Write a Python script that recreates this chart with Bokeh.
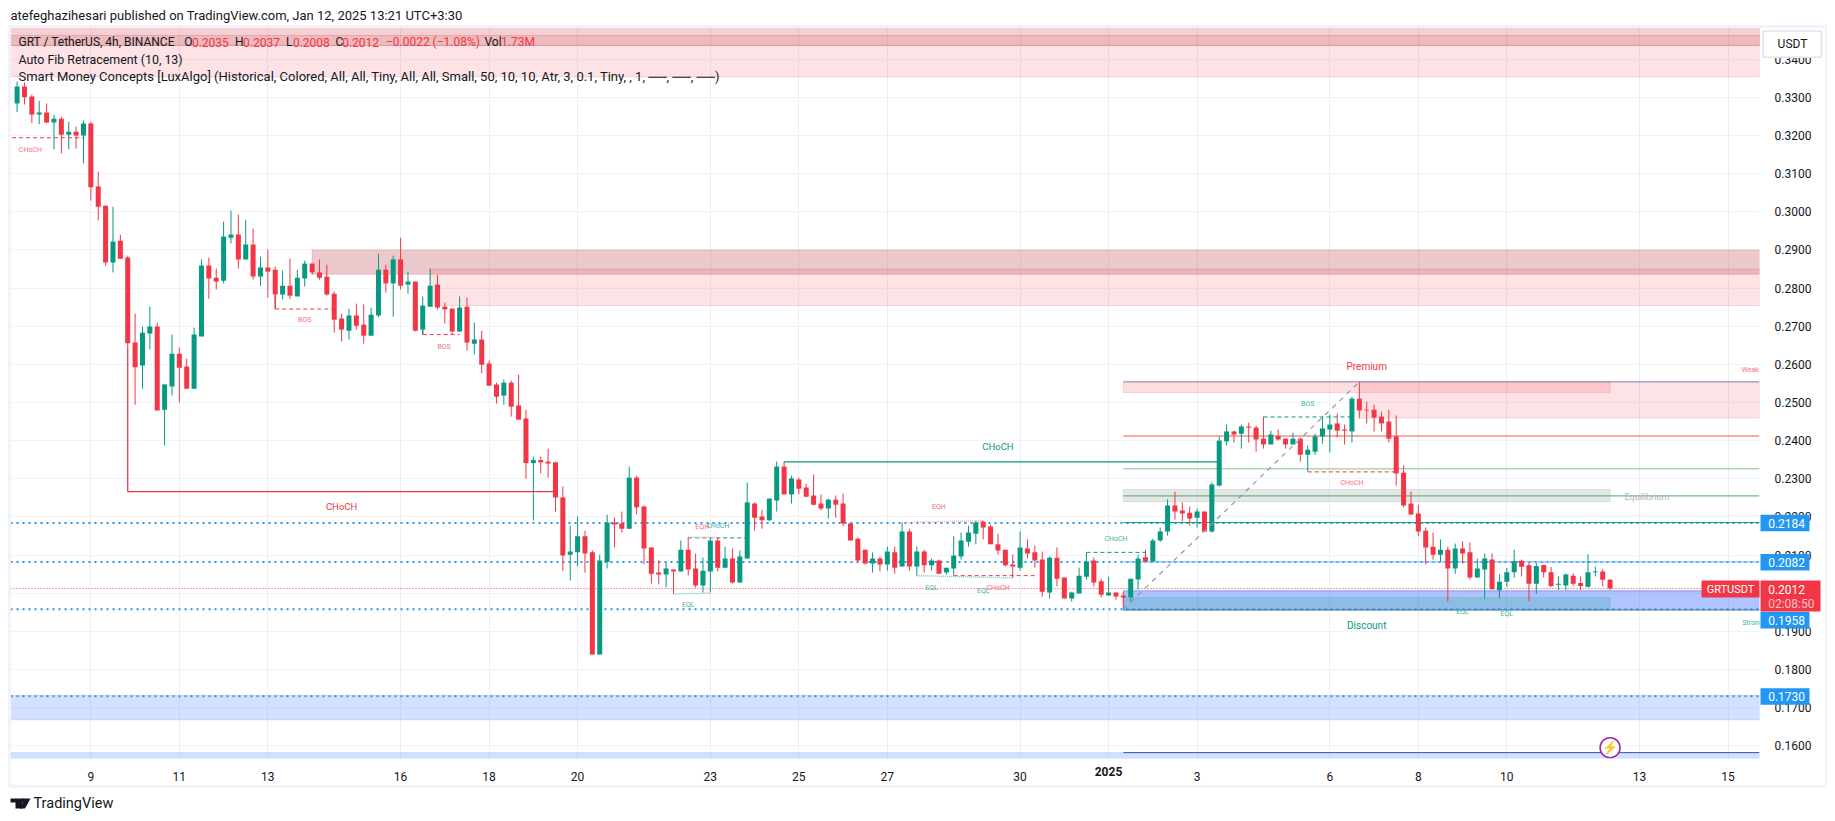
from bokeh.plotting import figure
from bokeh.embed import file_html
from bokeh.resources import INLINE
from bokeh.models import Range1d, FixedTicker, Label

opens = [.3284,.3328,.3302,.3255,.3260,.3234,.3244,.3202,.3210,.3200,
.3231,.3066,.3016,.2867,.2924,.2880,.2657,.2597,.2681,.2699,
.2481,.2542,.2628,.2594,.2536,.2673,.2859,.2827,.2819,.2932,
.2940,.2875,.2914,.2830,.2854,.2848,.2783,.2806,.2778,.2825,
.2864,.2841,.2830,.2785,.2720,.2688,.2728,.2704,.2675,.2728,
.2848,.2812,.2875,.2809,.2817,.2691,.2751,.2809,.2751,.2746,
.2686,.2751,.2654,.2665,.2602,.2547,.2518,.2552,.2492,.2458,
.2341,.2349,.2345,.2343,.2251,.2101,.2107,.2149,.2107,.1839,
.2082,.2185,.2183,.2169,.2303,.2227,.2120,.2054,.2049,.2062,
.2057,.2114,.2065,.2020,.2057,.2138,.2067,.2091,.2028,.2091,
.2235,.2201,.2191,.2243,.2332,.2259,.2298,.2277,.2256,.2235,
.2222,.2245,.2235,.2183,.2143,.2114,.2078,.2091,.2075,.2107,
.2070,.2162,.2070,.2109,.2073,.2086,.2054,.2065,.2096,.2135,
.2156,.2188,.2175,.2128,.2114,.2075,.2067,.2117,.2107,.2088,
.2002,.2093,.2041,.1986,.1999,.2043,.2086,.2031,.1994,.2002,
.1994,.1989,.2036,.2094,.2083,.2138,.2162,.2230,.2217,.2211,
.2198,.2214,.2162,.2282,.2398,.2424,.2418,.2437,.2434,.2405,
.2390,.2412,.2405,.2390,.2405,.2363,.2371,.2411,.2429,.2445,
.2429,.2424,.2510,.2481,.2481,.2463,.2450,.2411,.2316,.2235,
.2209,.2164,.2122,.2101,.2114,.2065,.2117,.2107,.2041,.2062,
.2088,.2008,.2030,.2055,.2085,.2073,.2025,.2074,.2055,.2022,
.2020,.2046,.2027,.2017,.2055,.2057,.2035]
highs = [.3341,.3339,.3307,.3291,.3284,.3255,.3249,.3236,.3223,.3239,
.3236,.3105,.3016,.3013,.2940,.2885,.2733,.2699,.2751,.2709,
.2549,.2678,.2644,.2615,.2696,.2875,.2880,.2851,.2974,.3003,
.2992,.2979,.2956,.2882,.2901,.2856,.2846,.2877,.2848,.2872,
.2864,.2875,.2861,.2791,.2733,.2746,.2759,.2757,.2749,.2890,
.2861,.2885,.2932,.2843,.2817,.2778,.2851,.2835,.2762,.2746,
.2778,.2775,.2709,.2688,.2610,.2552,.2560,.2557,.2573,.2481,
.2358,.2358,.2379,.2345,.2280,.2177,.2201,.2164,.2112,.2101,
.2206,.2198,.2214,.2332,.2308,.2230,.2120,.2086,.2080,.2062,
.2138,.2147,.2104,.2094,.2146,.2146,.2122,.2117,.2112,.2290,
.2238,.2219,.2248,.2345,.2345,.2308,.2303,.2287,.2311,.2259,
.2248,.2256,.2261,.2185,.2146,.2114,.2107,.2096,.2122,.2122,
.2185,.2169,.2122,.2114,.2091,.2088,.2067,.2149,.2159,.2177,
.2190,.2190,.2180,.2156,.2114,.2101,.2162,.2141,.2125,.2109,
.2096,.2120,.2041,.2004,.2067,.2107,.2094,.2038,.2043,.2002,
.2004,.2038,.2101,.2114,.2143,.2172,.2246,.2266,.2238,.2227,
.2222,.2214,.2290,.2411,.2442,.2426,.2442,.2447,.2439,.2463,
.2426,.2429,.2405,.2421,.2408,.2387,.2418,.2463,.2468,.2471,
.2442,.2515,.2554,.2502,.2494,.2476,.2481,.2466,.2335,.2266,
.2232,.2172,.2159,.2141,.2122,.2130,.2136,.2133,.2091,.2104,
.2104,.2049,.2066,.2114,.2088,.2080,.2080,.2074,.2069,.2044,
.2052,.2052,.2044,.2102,.2070,.2063,.2037]
lows = [.3261,.3281,.3232,.3230,.3232,.3164,.3153,.3164,.3165,.3127,
.3029,.2977,.2859,.2841,.2877,.2645,.2494,.2536,.2639,.2479,
.2388,.2518,.2500,.2536,.2536,.2673,.2772,.2796,.2812,.2917,
.2851,.2875,.2822,.2806,.2775,.2745,.2770,.2772,.2778,.2804,
.2835,.2822,.2780,.2683,.2660,.2665,.2691,.2654,.2675,.2723,
.2788,.2725,.2796,.2785,.2686,.2678,.2751,.2744,.2707,.2678,
.2686,.2636,.2626,.2577,.2544,.2497,.2494,.2463,.2455,.2300,
.2191,.2314,.2303,.2214,.2059,.2033,.2070,.2054,.1839,.1839,
.2065,.2120,.2159,.2169,.2206,.2075,.2025,.2023,.2015,.1998,
.2057,.2046,.2015,.2002,.2002,.2057,.2065,.2025,.2028,.2091,
.2164,.2169,.2188,.2214,.2259,.2235,.2259,.2251,.2230,.2217,
.2196,.2198,.2175,.2138,.2080,.2075,.2054,.2057,.2059,.2051,
.2070,.2059,.2046,.2054,.2059,.2051,.2049,.2046,.2088,.2122,
.2128,.2141,.2128,.2101,.2070,.2040,.2059,.2091,.2067,.1991,
.1986,.2018,.1986,.1978,.1999,.2036,.2018,.1989,.1994,.1983,
.1958,.1976,.2010,.2083,.2083,.2135,.2151,.2193,.2188,.2177,
.2172,.2162,.2159,.2280,.2387,.2395,.2379,.2395,.2371,.2379,
.2390,.2400,.2379,.2390,.2345,.2319,.2363,.2392,.2369,.2408,
.2390,.2395,.2458,.2445,.2424,.2424,.2395,.2282,.2225,.2206,
.2149,.2075,.2088,.2083,.1977,.2051,.2078,.2036,.2041,.1984,
.2010,.1987,.2016,.2041,.2044,.1978,.1998,.2041,.2016,.2008,
.2008,.2020,.2008,.2015,.2044,.2017,.2008]
closes = [.3328,.3300,.3255,.3260,.3234,.3244,.3202,.3210,.3200,.3231,
.3064,.3013,.2867,.2922,.2877,.2655,.2592,.2683,.2699,.2479,
.2547,.2628,.2591,.2536,.2678,.2859,.2825,.2817,.2935,.2940,
.2875,.2914,.2830,.2854,.2843,.2783,.2806,.2780,.2827,.2864,
.2841,.2827,.2783,.2717,.2691,.2728,.2701,.2675,.2730,.2848,
.2812,.2875,.2806,.2817,.2688,.2754,.2806,.2749,.2744,.2686,
.2749,.2657,.2665,.2599,.2544,.2515,.2552,.2489,.2455,.2341,
.2349,.2343,.2340,.2251,.2099,.2109,.2149,.2104,.1839,.2086,
.2185,.2180,.2169,.2303,.2225,.2117,.2051,.2049,.2065,.2057,
.2114,.2062,.2020,.2059,.2138,.2067,.2091,.2028,.2096,.2238,
.2198,.2191,.2248,.2332,.2259,.2301,.2274,.2253,.2232,.2222,
.2245,.2232,.2183,.2138,.2086,.2078,.2091,.2075,.2109,.2067,
.2162,.2070,.2109,.2073,.2086,.2051,.2067,.2099,.2138,.2159,
.2185,.2172,.2128,.2112,.2073,.2070,.2120,.2104,.2086,.2004,
.2093,.2038,.1986,.2002,.2046,.2083,.2028,.1996,.2002,.1991,
.1989,.2038,.2091,.2083,.2138,.2162,.2230,.2214,.2209,.2196,
.2214,.2162,.2285,.2400,.2424,.2416,.2437,.2434,.2403,.2390,
.2416,.2403,.2390,.2405,.2363,.2376,.2411,.2432,.2442,.2426,
.2426,.2510,.2479,.2479,.2460,.2445,.2405,.2314,.2230,.2206,
.2162,.2120,.2101,.2114,.2065,.2117,.2104,.2041,.2065,.2091,
.2010,.2030,.2055,.2084,.2069,.2025,.2071,.2055,.2019,.2025,
.2049,.2025,.2019,.2055,.2057,.2035,.2012]
assert len(opens) == len(highs) == len(lows) == len(closes) == 217

date_ticks = [10, 22, 34, 52, 64, 76, 94, 106, 118, 136, 148, 160, 178, 190, 202, 220, 232]
date_labels = ["9", "11", "13", "16", "18", "20", "23", "25", "27", "30", "", "3", "6", "8", "10", "13", "15"]
price_ticks = [0.16, 0.17, 0.18, 0.19, 0.20, 0.21, 0.22, 0.23, 0.24, 0.25, 0.26, 0.27, 0.28, 0.29, 0.30, 0.31, 0.32, 0.33, 0.34]

X0, X1 = -0.895, 236.26
Y0, Y1 = 0.15666, 0.3483

# zones: left, right, top, bottom, colour, alpha
zone_left  = [X0, X0, X0, 40, 56, 150, 182, 150, 150, 150, X0, X0]
zone_right = [X1, X1, X1, X1, X1, 216, X1, 216, X1, 216, X1, X1]
zone_top   = [Y1, Y1, .3462, .2900, .2850, .2554, .2554, .2272, .2006, .1989, .1732, .1582]
zone_bot   = [.3354, .3436, .3436, .2836, .2754, .2526, .2459, .2240, .1956, .1956, .1668, Y0]
zone_color = ["#f23645", "#b22833", "#b22833", "#b22833", "#f23645", "#f23645", "#f23645",
              "#878b94", "#2962ff", "#089981", "#2962ff", "#2962ff"]
zone_alpha = [.14, .1, .12, .25, .14, .16, .14, .22, .37, .2, .2, .2]

# full-width dotted levels
level_prices = [.2184, .2082, .1958, .1730]
level_text = ["0.2184", "0.2082", "0.1958", "0.1730"]

# flat levels from the fib / premium block: price, start, colour
flat_price = [.2554, .2412, .2326, .2255, .2185, .2082, .1582, .2006, .1956]
flat_start = [150, 150, 150, 150, 150, 150, 150, 150, 150]
flat_color = ["#7f8dbb", "#f4564a", "#81c784", "#4caf50", "#089981", "#64b5f6", "#3f51b5", "#8aa4ea", "#5b7a9d"]

# structure lines: x pairs, price pairs, colour
solid_xs = [[15, 15, 72.7], [104, 163], [35, 35], [55, 55]]
solid_ys = [[.2645, .2266, .2266], [.2344, .2344], [.2783, .2745], [.2691, .2678]]
solid_color = ["#f23645", "#089981", "#f23645", "#089981"]

dash_xs = [[-0.7, 9], [35, 43], [55, 60], [91, 99], [127, 138], [145, 153], [169, 181], [175, 187]]
dash_ys = [[.3194, .3194], [.2745, .2745], [.2678, .2678], [.2145, .2145], [.2046, .2046],
           [.2107, .2107], [.2462, .2462], [.2318, .2318]]
dash_color = ["#f23645", "#f23645", "#f23645", "#089981", "#f23645", "#089981", "#089981", "#f23645"]

eq_xs = [[91, 95], [120, 131], [89, 94], [122, 135], [194, 199, 205]]
eq_ys = [[.2147, .2146], [.2185, .2190], [.1998, .2000], [.2046, .2040], [.1977, .1984, .1978]]
eq_color = ["#f7a9b0", "#f7a9b0", "#7cc9bb", "#7cc9bb", "#7cc9bb"]

fib_x = [150, 182]
fib_y = [.1958, .2554]

# chart annotations: x, price, text, colour, size
note_x = [1.8, 39, 57.9, 44, 133, 92.9, 95, 91, 125, 124, 131, 133, 149, 175, 181, 196, 202, 183, 183, 221, 235, 235.3]
note_y = [.3163, .2715, .2645, .2228, .2385, .2173, .2177, .1968, .2226, .2014, .2005, .2014, .2142, .2496, .2289, .1950, .1946, .2595, .1916, .2252, .2585, .1923]
note_t = ["CHoCH", "BOS", "BOS", "CHoCH", "CHoCH", "EQH", "CHoCH", "EQL", "EQH", "EQL", "EQL", "CHoCH", "CHoCH", "BOS", "CHoCH", "EQL", "EQL", "Premium", "Discount", "Equilibrium", "Weak", "Strong"]
note_c = ["#f7707b", "#f7707b", "#f7707b", "#f23645", "#089981", "#f7707b", "#3db39f", "#3db39f", "#f7707b", "#3db39f", "#3db39f", "#f7707b", "#3db39f", "#3db39f", "#f7707b", "#3db39f", "#3db39f", "#f23645", "#089981", "#b2b5be", "#f7707b", "#3db39f"]
note_s = ["7px", "7px", "7px", "9.5px", "9.5px", "7px", "7px", "7px", "7px", "7px", "7px", "7px", "7px", "7px", "7px", "7px", "7px", "10px", "10px", "9px", "7px", "7px"]

FONT = "Roboto"
INK = "#131722"
UP, DOWN = "#089981", "#f23645"
BLUE = "#2196f3"
W, H = 1827, 815
FL, FR, FT, FB = 10, 1759, 27, 758

p = figure(width=W, height=H, output_backend="svg", toolbar_location=None,
           x_range=Range1d(X0, X1), y_range=Range1d(Y0, Y1), y_axis_location="right",
           min_border_left=FL, min_border_right=W - FR, min_border_top=FT, min_border_bottom=H - FB,
           background_fill_color="white", border_fill_color="white")
p.outline_line_color = None

p.xgrid.ticker = FixedTicker(ticks=date_ticks)
p.ygrid.ticker = FixedTicker(ticks=price_ticks)
p.xgrid.grid_line_color = "#eceff4"
p.ygrid.grid_line_color = "#f0f3fa"

p.xaxis.ticker = FixedTicker(ticks=date_ticks)
p.xaxis.major_label_overrides = {t: l for t, l in zip(date_ticks, date_labels)}
p.yaxis.ticker = FixedTicker(ticks=price_ticks)
p.yaxis.major_label_overrides = {t: f"{t:.4f}" for t in price_ticks}
for ax in (p.xaxis[0], p.yaxis[0]):
    ax.axis_line_color = None
    ax.major_tick_line_color = None
    ax.minor_tick_line_color = None
    ax.major_label_text_font = FONT
    ax.major_label_text_font_size = "12px"
    ax.major_label_text_color = INK
p.yaxis.major_label_standoff = 9
p.xaxis.major_label_standoff = 7

p.quad(left=zone_left, right=zone_right, top=zone_top, bottom=zone_bot,
       fill_color=zone_color, fill_alpha=zone_alpha, line_color=zone_color, line_alpha=0.18)

for lv in level_prices:
    p.line([X0, X1], [lv, lv], line_color=BLUE, line_width=2, line_dash="2 4")
p.line([X0, X1], [closes[-1], closes[-1]], line_color=DOWN, line_width=1, line_dash="1 2")

for pr, st, c in zip(flat_price, flat_start, flat_color):
    p.line([st, X1], [pr, pr], line_color=c, line_width=1)

n = len(opens)
xs = list(range(n))
cols = [UP if c >= o else DOWN for o, c in zip(opens, closes)]
p.segment(xs, lows, xs, highs, line_color=cols, line_width=1)
p.vbar(x=xs, width=0.68, top=[max(o, c) for o, c in zip(opens, closes)],
       bottom=[min(o, c) for o, c in zip(opens, closes)], fill_color=cols, line_color=None)

p.line(fib_x, fib_y, line_color="#9598a1", line_width=1.2, line_dash="5 5")
for xx, yy, c in zip(solid_xs, solid_ys, solid_color):
    p.line(xx, yy, line_color=c, line_width=1.3)
for xx, yy, c in zip(dash_xs, dash_ys, dash_color):
    p.line(xx, yy, line_color=c, line_width=1, line_dash="4 3")
for xx, yy, c in zip(eq_xs, eq_ys, eq_color):
    p.line(xx, yy, line_color=c, line_width=1.5, line_dash="1 1")

p.scatter([216], [.1595], size=20, marker="circle", fill_color="white", line_color="#9c27b0", line_width=1.5)


def tag(fig, x, y, text, color=INK, size="13px", align="left", style="normal"):
    lab = Label(x=x, y=y, text=text, text_color=color, text_font=FONT, text_font_size=size,
                text_align=align, text_baseline="middle", text_font_style=style)
    fig.add_layout(lab)
    return lab


for x, y, t, c, s in zip(note_x, note_y, note_t, note_c, note_s):
    tag(p, x, y, t, c, s, "center")
tag(p, 216, .1595, "\u26a1", "#9c27b0", "13px", "center")

# transparent page-level layer: everything that lies outside the plot frame
q = figure(width=W, height=H, output_backend="svg", toolbar_location=None,
           x_range=Range1d(0, W), y_range=Range1d(H, 0),
           x_axis_location=None, y_axis_location=None,
           min_border=0, min_border_left=0, min_border_right=0, min_border_top=0, min_border_bottom=0,
           background_fill_color=None, border_fill_color=None,
           styles={"position": "absolute", "left": "0px", "top": "0px"})
q.outline_line_color = None
q.grid.visible = False

q.quad(left=[9], right=[1826], top=[26], bottom=[786], fill_color=None, line_color="#f0f3fa", line_width=3)

tag(q, 10, 15, "atefeghazihesari published on TradingView.com, Jan 12, 2025 13:21 UTC+3:30")
tag(q, 18, 41.7, "GRT / TetherUS, 4h, BINANCE", INK, "12px")
for px, t, c in [(183.7, "O", INK), (191.4, "0.2035", DOWN), (234.6, "H", INK), (242.6, "0.2037", DOWN),
                 (285.5, "L", INK), (292.4, "0.2008", DOWN), (334.9, "C", INK), (341.7, "0.2012", DOWN),
                 (385.4, "\u22120.0022 (\u22121.08%)", DOWN), (484, "Vol", INK), (500.6, "1.73M", DOWN)]:
    tag(q, px, 41.7, t, c, "12px")
tag(q, 18, 59, "Auto Fib Retracement (10, 13)", INK, "12.4px")
tag(q, 18, 76, "Smart Money Concepts [LuxAlgo] (Historical, Colored, All, All, Tiny, All, All, Small, 50, 10, 10, Atr, 3, 0.1, Tiny, , 1, \u2500\u2500, \u2500\u2500, \u2500\u2500)")

tag(q, 1108, 771, "2025", INK, "12px", "center", "bold")

badge_rows = [522.5, 561.7, 619.6, 696]
for yy, t in zip(badge_rows, level_text):
    q.quad(left=[1760], right=[1809], top=[yy - 8.3], bottom=[yy + 8.3], fill_color=BLUE, line_color=None)
    tag(q, 1767.7, yy, t, "white", "12px")

# current-price badges
q.quad(left=[1701], right=[1759], top=[580], bottom=[597], fill_color=DOWN, line_color=None)
tag(q, 1730, 588.5, "GRTUSDT", "white", "11px", "center")
q.quad(left=[1760], right=[1820], top=[580], bottom=[611], fill_color=DOWN, line_color=None)
tag(q, 1767.7, 588.5, "0.2012", "white", "12px")
tag(q, 1767.7, 603, "02:08:50", "#fbc3c8", "12px")

# currency button
q.quad(left=[1762.7], right=[1821], top=[30.5], bottom=[56.7], fill_color="white", line_color="#e0e3eb", line_width=1.5)
tag(q, 1792, 43.6, "USDT", INK, "12px", "center")

# logo
q.patch([10, 22, 22, 15, 15, 10], [798, 798, 808, 808, 802, 802], fill_color=INK, line_color=None)
q.patch([24.5, 30, 24.5, 19.5], [798, 798, 808, 808], fill_color=INK, line_color=None)
q.scatter([23.2], [800], size=4.5, marker="circle", fill_color=INK, line_color=None)
tag(q, 33, 803, "TradingView", INK, "14.5px")

open("out.html", "w").write(file_html([p, q], INLINE))
